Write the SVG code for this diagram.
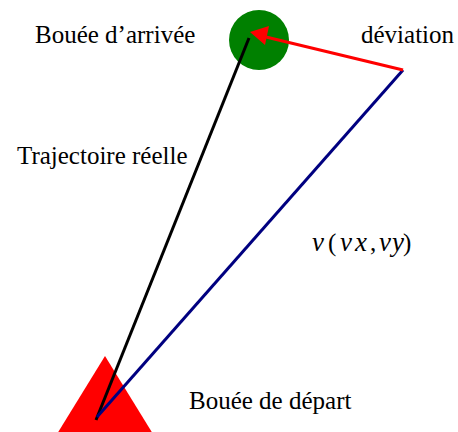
<svg xmlns="http://www.w3.org/2000/svg" width="458" height="432" viewBox="0 0 458 432">
<style>
text{font-family:'Liberation Serif','Times New Roman',serif;font-size:25px;fill:#000}
.i{font-style:italic;font-size:27px}
</style>
<rect width="458" height="432" fill="#fff"/>
<g id="depart"><polygon points="105,356 57,434 153,434" fill="#ff0000"/></g>
<g id="arrivee"><circle cx="259" cy="40" r="30" fill="#008000"/></g>
<g id="connectors">
<line x1="96" y1="420" x2="249" y2="38" stroke="#000" stroke-width="3"/>
<line x1="97" y1="417" x2="403" y2="70" stroke="#000080" stroke-width="3"/>
<line x1="403" y1="70" x2="266" y2="37" stroke="#ff0000" stroke-width="3"/>
<polygon points="250,32 269,26 265,45" fill="#ff0000"/>
</g>
<g id="labels">
<text x="35" y="43">Bouée d’arrivée</text>
<text x="361" y="43">déviation</text>
<text x="17" y="164">Trajectoire réelle</text>
<text x="189" y="409">Bouée de départ</text>
<text y="251"><tspan class="i" x="312">v</tspan><tspan x="328">(</tspan><tspan class="i" x="340">v</tspan><tspan class="i" x="355">x</tspan><tspan x="370">,</tspan><tspan class="i" x="379">v</tspan><tspan class="i" x="392">y</tspan><tspan x="403">)</tspan></text>
</g>
</svg>
